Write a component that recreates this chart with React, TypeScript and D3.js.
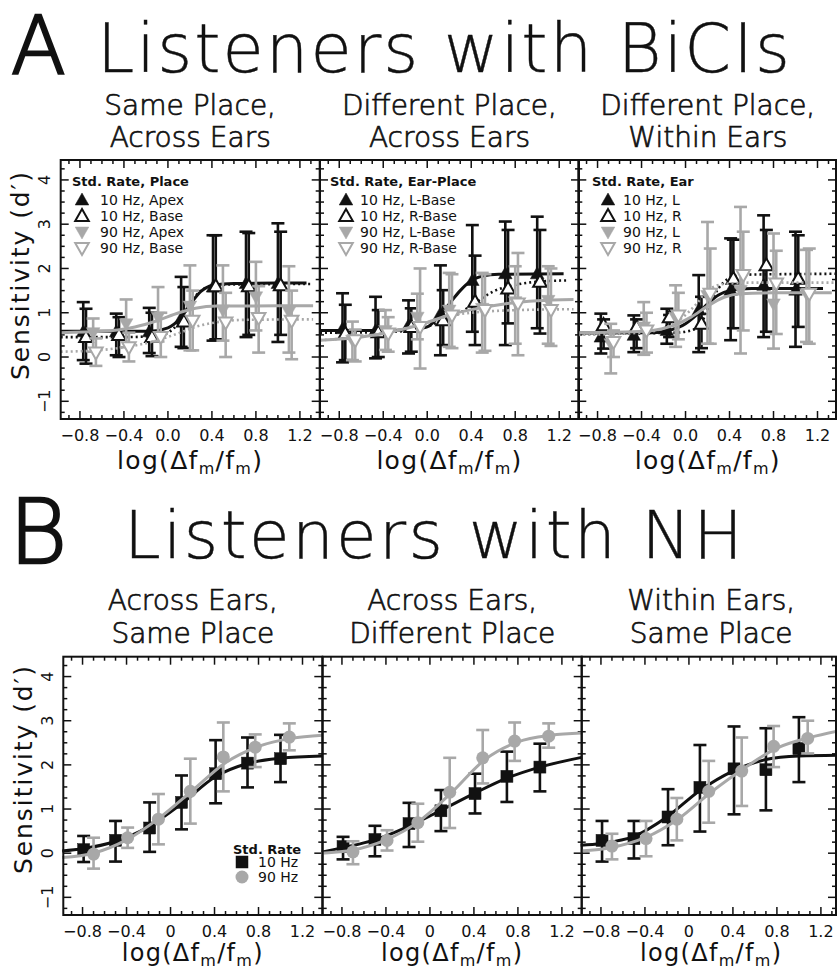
import React from 'react';
import * as d3 from 'd3';

const W = 837;
const H = 970;
const BLACK = '#111111';
const GRAY = '#a8a8a8';
const FONT = '"DejaVu Sans", "Liberation Sans", sans-serif';

// ---------- tick labels ----------
const xTickValues = [-0.8, -0.4, 0, 0.4, 0.8, 1.2];
const xTickLabelsA = ['\u22120.8', '\u22120.4', '0.0', '0.4', '0.8', '1.2'];
const xTickLabelsB = ['\u22120.8', '\u22120.4', '0', '0.4', '0.8', '1.2'];
const yTickValues = [-1, 0, 1, 2, 3, 4];
const yTickLabels = ['\u22121', '0', '1', '2', '3', '4'];

// ---------- x positions of conditions ----------
const xA10 = [-0.77, -0.47, -0.17, 0.12, 0.41, 0.71, 1.0];
const xA10b = [-0.745, -0.445, -0.145, 0.145, 0.435, 0.735, 1.025];
const xA90 = [-0.68, -0.38, -0.09, 0.2, 0.5, 0.8, 1.1];
const xA90b = [-0.655, -0.355, -0.065, 0.225, 0.525, 0.825, 1.125];
const xB10 = [-0.79, -0.5, -0.19, 0.1, 0.41, 0.7, 1.0];
const xB90 = [-0.7, -0.39, -0.11, 0.18, 0.48, 0.77, 1.08];

// ---------- Panel A1: Same Place, Across Ears  [mean, lower, upper] ----------
const a1_10Apex = [[0.57, -0.07, 1.24], [0.57, 0.04, 0.98], [0.57, 0.09, 1.11], [0.87, 0.23, 1.81], [1.58, 0.37, 2.75], [1.66, 0.45, 2.83], [1.66, 0.34, 3.02]];
const a1_10Base = [[0.45, -0.15, 1.09], [0.5, 0.0, 0.9], [0.45, 0.02, 1.0], [0.8, 0.2, 1.58], [1.6, 0.4, 2.75], [1.6, 0.5, 2.8], [1.62, 0.5, 2.83]];
const a1_90Apex = [[0.55, 0.12, 0.87], [0.75, 0.22, 1.3], [0.9, 0.35, 1.58], [1.15, 0.15, 2.07], [1.06, 0.37, 2.07], [1.36, 0.6, 2.15], [1.02, 0.1, 2.05]];
const a1_90Base = [[0.1, -0.2, 0.42], [0.22, -0.1, 0.55], [0.45, 0.0, 1.0], [0.82, 0.15, 1.5], [0.78, 0.0, 1.45], [0.88, 0.1, 1.6], [0.82, -0.05, 1.5]];
const a1_10Apex_fit = [[-0.975, 0.58], [-0.4, 0.58], [-0.16, 0.58], [0.0, 0.66], [0.11, 0.87], [0.2, 1.18], [0.3, 1.48], [0.41, 1.62], [0.6, 1.66], [1.0, 1.67], [1.26, 1.67]];
const a1_10Base_fit = [[-0.975, 0.45], [-0.4, 0.45], [-0.1, 0.48], [0.0, 0.55], [0.1, 0.78], [0.2, 1.2], [0.3, 1.5], [0.4, 1.6], [0.6, 1.64], [1.3, 1.65]];
const a1_90Apex_fit = [[-0.975, 0.55], [-0.6, 0.58], [-0.3, 0.68], [-0.1, 0.82], [0.1, 1.0], [0.25, 1.1], [0.45, 1.15], [1.32, 1.16]];
const a1_90Base_fit = [[-0.975, 0.12], [-0.6, 0.16], [-0.4, 0.22], [-0.15, 0.34], [0.1, 0.54], [0.25, 0.68], [0.43, 0.78], [0.7, 0.84], [1.32, 0.85]];

// ---------- Panel A2: Different Place, Across Ears ----------
const a2_10L = [[0.64, -0.12, 1.44], [0.6, -0.03, 1.36], [0.71, 0.08, 1.28], [0.98, 0.04, 2.07], [1.73, 0.57, 2.98], [1.88, 0.27, 3.06], [1.88, 0.65, 3.17]];
const a2_10R = [[0.53, -0.07, 1.18], [0.56, 0.0, 1.06], [0.68, 0.12, 1.1], [0.83, 0.27, 1.51], [1.25, 0.27, 2.29], [1.55, 0.76, 2.87], [1.7, 0.53, 2.87]];
const a2_90L = [[0.38, -0.07, 0.8], [0.6, 0.16, 1.06], [0.9, 0.4, 1.43], [1.06, 0.23, 1.9], [1.1, 0.1, 1.9], [1.25, 0.3, 2.05], [1.28, 0.3, 2.05]];
const a2_90R = [[0.38, -0.1, 0.62], [0.53, 0.12, 0.9], [0.68, -0.26, 2.0], [0.94, 0.2, 1.87], [1.06, 0.14, 1.87], [1.21, 0.04, 2.35], [1.06, 0.25, 2.0]];
const a2_10L_fit = [[-0.975, 0.6], [-0.4, 0.6], [-0.15, 0.62], [0.0, 0.68], [0.1, 0.9], [0.2, 1.2], [0.3, 1.5], [0.4, 1.72], [0.5, 1.83], [0.65, 1.87], [1.24, 1.88]];
const a2_10R_fit = [[-0.975, 0.55], [-0.4, 0.56], [-0.1, 0.62], [0.1, 0.78], [0.3, 1.0], [0.45, 1.25], [0.6, 1.48], [0.8, 1.63], [1.0, 1.7], [1.27, 1.73]];
const a2_90L_fit = [[-0.975, 0.38], [-0.6, 0.45], [-0.3, 0.58], [0.0, 0.78], [0.2, 0.95], [0.4, 1.07], [0.7, 1.2], [1.0, 1.27], [1.33, 1.3]];
const a2_90R_fit = [[-0.975, 0.38], [-0.5, 0.5], [-0.2, 0.65], [0.0, 0.78], [0.2, 0.93], [0.4, 1.0], [0.7, 1.05], [1.33, 1.08]];

// ---------- Panel A3: Different Place, Within Ears ----------
const a3_10L = [[0.45, 0.08, 0.98], [0.49, 0.11, 0.94], [0.6, 0.3, 1.09], [1.06, 0.11, 1.85], [1.51, 0.38, 2.68], [1.62, 0.45, 3.2], [1.51, 0.23, 2.83]];
const a3_10R = [[0.72, 0.19, 0.85], [0.68, 0.2, 0.85], [0.9, 0.45, 0.95], [0.75, 0.2, 1.36], [1.77, 0.65, 2.65], [2.07, 0.57, 2.87], [1.77, 0.68, 2.75]];
const a3_90L = [[0.3, -0.37, 0.75], [0.68, 0.05, 1.24], [0.9, 0.23, 1.62], [1.39, 0.3, 3.05], [1.51, 0.08, 3.39], [1.2, 0.19, 2.79], [1.43, 0.34, 2.42]];
const a3_90R = [[0.34, 0.0, 0.6], [0.6, 0.1, 1.0], [0.94, 0.4, 1.45], [1.43, 0.3, 2.45], [1.85, 0.6, 2.83], [1.66, 0.52, 2.4], [1.43, 0.3, 2.45]];
const a3_10L_fit = [[-0.975, 0.54], [-0.3, 0.55], [-0.15, 0.6], [0.0, 0.75], [0.1, 0.95], [0.2, 1.2], [0.3, 1.4], [0.4, 1.5], [0.6, 1.55], [1.25, 1.55]];
const a3_10R_fit = [[-0.975, 0.52], [-0.1, 0.55], [0.05, 0.6], [0.15, 0.8], [0.22, 1.2], [0.3, 1.55], [0.4, 1.78], [0.55, 1.86], [1.38, 1.88]];
const a3_90L_fit = [[-0.975, 0.55], [-0.5, 0.57], [-0.3, 0.6], [-0.1, 0.72], [0.05, 0.9], [0.2, 1.15], [0.35, 1.35], [0.5, 1.43], [0.8, 1.45], [1.33, 1.45]];
const a3_90R_fit = [[-0.975, 0.5], [-0.4, 0.55], [-0.2, 0.65], [-0.05, 0.85], [0.1, 1.2], [0.2, 1.5], [0.35, 1.65], [0.6, 1.68], [1.38, 1.68]];

// ---------- Panel B1: Across Ears, Same Place ----------
const b1_10 = [[0.08, -0.2, 0.39], [0.29, -0.19, 0.73], [0.57, 0.03, 1.15], [1.15, 0.54, 1.76], [1.8, 1.13, 2.56], [2.04, 1.49, 2.62], [2.14, 1.61, 2.68]];
const b1_90 = [[-0.02, -0.35, 0.35], [0.35, 0.12, 0.58], [0.77, 0.2, 1.34], [1.4, 0.67, 2.14], [2.18, 1.4, 2.96], [2.4, 1.95, 2.69], [2.63, 2.33, 2.94]];
const b1_10_fit = [[-0.985, 0.05], [-0.8, 0.1], [-0.5, 0.27], [-0.2, 0.6], [0.1, 1.12], [0.4, 1.72], [0.7, 2.03], [1.0, 2.15], [1.38, 2.2]];
const b1_90_fit = [[-0.985, -0.1], [-0.7, 0.0], [-0.4, 0.3], [-0.1, 0.8], [0.2, 1.42], [0.5, 2.05], [0.8, 2.42], [1.1, 2.6], [1.38, 2.67]];

// ---------- Panel B2: Across Ears, Different Place ----------
const b2_10 = [[0.15, -0.14, 0.37], [0.31, -0.07, 0.62], [0.67, 0.14, 1.14], [0.96, 0.5, 1.43], [1.35, 0.9, 1.8], [1.74, 1.16, 2.3], [1.95, 1.4, 2.48]];
const b2_90 = [[0.03, -0.25, 0.27], [0.29, 0.06, 0.52], [0.69, 0.26, 1.12], [1.38, 0.57, 2.16], [2.16, 1.58, 2.79], [2.54, 2.09, 2.96], [2.65, 2.39, 2.94]];
const b2_10_fit = [[-0.985, 0.02], [-0.8, 0.12], [-0.5, 0.3], [-0.2, 0.6], [0.1, 0.97], [0.4, 1.35], [0.7, 1.7], [1.0, 1.95], [1.38, 2.17]];
const b2_90_fit = [[-0.985, 0.0], [-0.7, 0.07], [-0.4, 0.3], [-0.1, 0.72], [0.2, 1.38], [0.5, 2.12], [0.8, 2.52], [1.1, 2.67], [1.38, 2.72]];

// ---------- Panel B3: Within Ears, Same Place ----------
const b3_10 = [[0.29, -0.19, 0.73], [0.33, -0.12, 0.73], [0.82, 0.18, 1.45], [1.49, 0.49, 2.45], [1.91, 0.88, 2.87], [1.89, 0.97, 2.83], [2.37, 1.61, 3.08]];
const b3_90 = [[0.16, -0.14, 0.44], [0.33, -0.07, 0.73], [0.77, 0.29, 1.25], [1.4, 0.69, 2.09], [1.86, 1.07, 2.62], [2.42, 1.95, 2.88], [2.6, 2.26, 3.0]];
const b3_10_fit = [[-0.985, 0.18], [-0.8, 0.22], [-0.5, 0.38], [-0.2, 0.82], [0.1, 1.42], [0.4, 1.86], [0.7, 2.12], [1.0, 2.2], [1.38, 2.22]];
const b3_90_fit = [[-0.985, 0.05], [-0.7, 0.13], [-0.4, 0.35], [-0.1, 0.77], [0.2, 1.38], [0.5, 1.92], [0.8, 2.38], [1.1, 2.62], [1.38, 2.78]];

// ---------- text ----------
const titleA = 'Listeners with BiCIs';
const titleB = 'Listeners with NH';
const subA = [['Same Place,', 'Across Ears'], ['Different Place,', 'Across Ears'], ['Different Place,', 'Within Ears']];
const subB = [['Across Ears,', 'Same Place'], ['Across Ears,', 'Different Place'], ['Within Ears,', 'Same Place']];
const legTitlesA = ['Std. Rate, Place', 'Std. Rate, Ear-Place', 'Std. Rate, Ear'];
const legLabelsA = [
  ['10 Hz, Apex', '10 Hz, Base', '90 Hz, Apex', '90 Hz, Base'],
  ['10 Hz, L-Base', '10 Hz, R-Base', '90 Hz, L-Base', '90 Hz, R-Base'],
  ['10 Hz, L', '10 Hz, R', '90 Hz, L', '90 Hz, R'],
];
const legTitleB = 'Std. Rate';
const legLabelsB = ['10 Hz', '90 Hz'];

// ---------- layout ----------
const PW = 259;
const XDOM = [-0.975, 1.38];
const YDOM = [-1.4, 4.45];
const MAXR = 836;

type Series = { x: number[]; d: number[][]; fit: number[][]; color: string; shape: string; open: boolean; dotted: boolean };

function mk(x: number[], d: number[][], fit: number[][], color: string, shape: string, open: boolean, dotted: boolean): Series {
  return { x, d, fit, color, shape, open, dotted };
}

const seriesA: Series[][] = [
  [
    mk(xA10, a1_10Apex, a1_10Apex_fit, BLACK, 'up', false, false),
    mk(xA10b, a1_10Base, a1_10Base_fit, BLACK, 'up', true, true),
    mk(xA90, a1_90Apex, a1_90Apex_fit, GRAY, 'down', false, false),
    mk(xA90b, a1_90Base, a1_90Base_fit, GRAY, 'down', true, true),
  ],
  [
    mk(xA10, a2_10L, a2_10L_fit, BLACK, 'up', false, false),
    mk(xA10b, a2_10R, a2_10R_fit, BLACK, 'up', true, true),
    mk(xA90, a2_90L, a2_90L_fit, GRAY, 'down', false, false),
    mk(xA90b, a2_90R, a2_90R_fit, GRAY, 'down', true, true),
  ],
  [
    mk(xA10, a3_10L, a3_10L_fit, BLACK, 'up', false, false),
    mk(xA10b, a3_10R, a3_10R_fit, BLACK, 'up', true, true),
    mk(xA90, a3_90L, a3_90L_fit, GRAY, 'down', false, false),
    mk(xA90b, a3_90R, a3_90R_fit, GRAY, 'down', true, true),
  ],
];

const seriesB: Series[][] = [
  [mk(xB10, b1_10, b1_10_fit, BLACK, 'square', false, false), mk(xB90, b1_90, b1_90_fit, GRAY, 'circle', false, false)],
  [mk(xB10, b2_10, b2_10_fit, BLACK, 'square', false, false), mk(xB90, b2_90, b2_90_fit, GRAY, 'circle', false, false)],
  [mk(xB10, b3_10, b3_10_fit, BLACK, 'square', false, false), mk(xB90, b3_90, b3_90_fit, GRAY, 'circle', false, false)],
];

const leftsA = [60.7, 320, 578.3];
const leftsB = [63.3, 322.7, 581.7];
const legOffA = [
  { t: 72, m: 82, x: 100 },
  { t: 330, m: 346, x: 360 },
  { t: 592, m: 608, x: 623 },
];

function Marker({ shape, open, color, cx, cy }: { shape: string; open: boolean; color: string; cx: number; cy: number }) {
  const fill = open ? '#ffffff' : color;
  const sw = open ? 2 : 0.5;
  if (shape === 'up') {
    return <path d={`M${cx},${cy - 7}L${cx + 6.8},${cy + 5}L${cx - 6.8},${cy + 5}Z`} fill={fill} stroke={color} strokeWidth={sw} strokeLinejoin="miter" />;
  }
  if (shape === 'down') {
    return <path d={`M${cx},${cy + 7}L${cx + 6.8},${cy - 5}L${cx - 6.8},${cy - 5}Z`} fill={fill} stroke={color} strokeWidth={sw} strokeLinejoin="miter" />;
  }
  if (shape === 'square') {
    return <rect x={cx - 6} y={cy - 6} width={12} height={12} fill={fill} stroke={color} strokeWidth={0.5} />;
  }
  return <circle cx={cx} cy={cy} r={6.5} fill={fill} />;
}

function Panel({ left, top, bottom, series, xLabels, showY, titleY, titleSize }: { left: number; top: number; bottom: number; series: Series[]; xLabels: string[]; showY: boolean; titleY: number; titleSize: number }) {
  const right = Math.min(left + PW, MAXR);
  const x = d3.scaleLinear().domain(XDOM).range([left, left + PW]);
  const y = d3.scaleLinear().domain(YDOM).range([bottom, top]);
  const line = d3
    .line<number[]>()
    .x((d) => x(d[0]))
    .y((d) => y(d[1]))
    .curve(d3.curveMonotoneX);
  const xt = d3.range(-9, 14).map((i) => i / 10).filter((t) => x(t) < right - 1);
  const yt = d3.range(-5, 18).map((i) => i / 4);
  const ticks: JSX.Element[] = [];
  xt.forEach((t, i) => {
    const major = Math.round(t * 10) % 4 === 0;
    const len = major ? 8 : 4;
    const px = x(t);
    ticks.push(<line key={`xb${i}`} x1={px} x2={px} y1={bottom} y2={bottom - len} />);
    ticks.push(<line key={`xt${i}`} x1={px} x2={px} y1={top} y2={top + len} />);
  });
  yt.forEach((t, i) => {
    const major = Math.round(t * 4) % 4 === 0;
    const len = major ? 8 : 4;
    const py = y(t);
    ticks.push(<line key={`yl${i}`} x1={left} x2={left + len} y1={py} y2={py} />);
    ticks.push(<line key={`yr${i}`} x1={right} x2={right - len} y1={py} y2={py} />);
  });
  return (
    <g>
      <g stroke={BLACK} strokeWidth={1.5}>{ticks}</g>
      {series.map((s, si) => (
        <g key={`s${si}`}>
          {s.d.map((d, i) => {
            const px = x(s.x[i]);
            return (
              <g key={i} stroke={s.color} strokeWidth={2.6}>
                <line x1={px} x2={px} y1={y(d[1])} y2={y(d[2])} />
                <line x1={px - 6.5} x2={px + 6.5} y1={y(d[1])} y2={y(d[1])} />
                <line x1={px - 6.5} x2={px + 6.5} y1={y(d[2])} y2={y(d[2])} />
              </g>
            );
          })}
          <path d={line(s.fit) || ''} fill="none" stroke={s.color} strokeWidth={s.dotted ? 2.6 : 3} strokeDasharray={s.dotted ? '2 3' : undefined} />
          {s.d.map((d, i) => (
            <Marker key={`m${i}`} shape={s.shape} open={s.open} color={s.color} cx={x(s.x[i])} cy={y(d[0])} />
          ))}
        </g>
      ))}
      <rect x={left} y={top} width={right - left} height={bottom - top} fill="none" stroke={BLACK} strokeWidth={2} />
      <g fontFamily={FONT} fontSize={16} fill={BLACK}>
        {xTickValues.map((t, i) => (
          <text key={`xl${i}`} x={x(t)} y={bottom + 22} textAnchor="middle">
            {xLabels[i]}
          </text>
        ))}
      </g>
      {showY && (
        <g fontFamily={FONT} fontSize={16} fill={BLACK}>
          {yTickValues.map((t, i) => (
            <text key={`yl${i}`} transform={`translate(${left - 10.5},${y(t)}) rotate(-90)`} textAnchor="middle">
              {yTickLabels[i]}
            </text>
          ))}
        </g>
      )}
      <text x={left + PW / 2} y={titleY} textAnchor="middle" fontFamily={FONT} fontSize={titleSize} letterSpacing={1.3} fill={BLACK}>
        log(Δf
        <tspan fontSize={16} dy={5}>m</tspan>
        <tspan dy={-5}>/f</tspan>
        <tspan fontSize={16} dy={5}>m</tspan>
        <tspan dy={-5}>)</tspan>
      </text>
    </g>
  );
}

export default function App() {
  const topA = 160;
  const botA = 419;
  const topB = 656.7;
  const botB = 915;
  return (
    <svg width={W} height={H} style={{ position: 'absolute', left: 0, top: 0, background: '#fff' }} xmlns="http://www.w3.org/2000/svg">
      <rect x={0} y={0} width={W} height={H} fill="#ffffff" />
      {/* Titles */}
      <text x={11} y={73} fontFamily={FONT} fontSize={80} fontWeight={200} fill={BLACK} stroke={BLACK} strokeWidth={2.4}>A</text>
      <text x={97} y={72} fontFamily={FONT} fontSize={67} fontWeight={200} fill={BLACK} stroke={BLACK} strokeWidth={0.4} textLength={693} lengthAdjust="spacing">{titleA}</text>
      <text x={9} y={563} fontFamily={FONT} fontSize={89} fontWeight={200} fill={BLACK} stroke={BLACK} strokeWidth={2.4}>B</text>
      <text x={124} y={558} fontFamily={FONT} fontSize={66} fontWeight={200} fill={BLACK} stroke={BLACK} strokeWidth={0.4} textLength={619} lengthAdjust="spacing">{titleB}</text>

      {subA.map((lines, i) => (
        <g key={`sa${i}`} fontFamily={FONT} fontSize={28} fill={BLACK} stroke={BLACK} strokeWidth={0.7} textAnchor="middle" fontWeight={200}>
          <text x={leftsA[i] + PW / 2} y={115}>{lines[0]}</text>
          <text x={leftsA[i] + PW / 2} y={147}>{lines[1]}</text>
        </g>
      ))}
      {subB.map((lines, i) => (
        <g key={`sb${i}`} fontFamily={FONT} fontSize={28} fill={BLACK} stroke={BLACK} strokeWidth={0.7} textAnchor="middle" fontWeight={200}>
          <text x={leftsB[i] + PW / 2} y={610}>{lines[0]}</text>
          <text x={leftsB[i] + PW / 2} y={643}>{lines[1]}</text>
        </g>
      ))}

      {/* Y axis titles */}
      <text transform={`translate(29,276) rotate(-90)`} textAnchor="middle" fontFamily={FONT} fontSize={25} fill={BLACK} textLength={208} lengthAdjust="spacing">
        Sensitivity (d′)
      </text>
      <text transform={`translate(31.5,770) rotate(-90)`} textAnchor="middle" fontFamily={FONT} fontSize={25} fill={BLACK} textLength={208} lengthAdjust="spacing">
        Sensitivity (d′)
      </text>

      {seriesA.map((s, i) => (
        <Panel key={`pa${i}`} left={leftsA[i]} top={topA} bottom={botA} series={s} xLabels={xTickLabelsA} showY={i === 0} titleY={469} titleSize={25} />
      ))}
      {seriesB.map((s, i) => (
        <Panel key={`pb${i}`} left={leftsB[i]} top={topB} bottom={botB} series={s} xLabels={xTickLabelsB} showY={i === 0} titleY={961} titleSize={24} />
      ))}

      {/* Legends A */}
      {legOffA.map((o, i) => (
        <g key={`la${i}`} fontFamily={FONT} fill={BLACK}>
          <text x={o.t} y={186} fontSize={13} fontWeight="bold">{legTitlesA[i]}</text>
          {seriesA[i].map((s, j) => (
            <g key={j}>
              <Marker shape={s.shape} open={s.open} color={s.color} cx={o.m} cy={200 + 16 * j} />
              <text x={o.x} y={205 + 16 * j} fontSize={14}>{legLabelsA[i][j]}</text>
            </g>
          ))}
        </g>
      ))}

      {/* Legend B */}
      <g fontFamily={FONT} fill={BLACK}>
        <text x={233} y={854} fontSize={13} fontWeight="bold">{legTitleB}</text>
        {seriesB[0].map((s, j) => (
          <g key={j}>
            <Marker shape={s.shape} open={s.open} color={s.color} cx={242} cy={862 + 15 * j} />
            <text x={258} y={866.5 + 15 * j} fontSize={14}>{legLabelsB[j]}</text>
          </g>
        ))}
      </g>
    </svg>
  );
}
